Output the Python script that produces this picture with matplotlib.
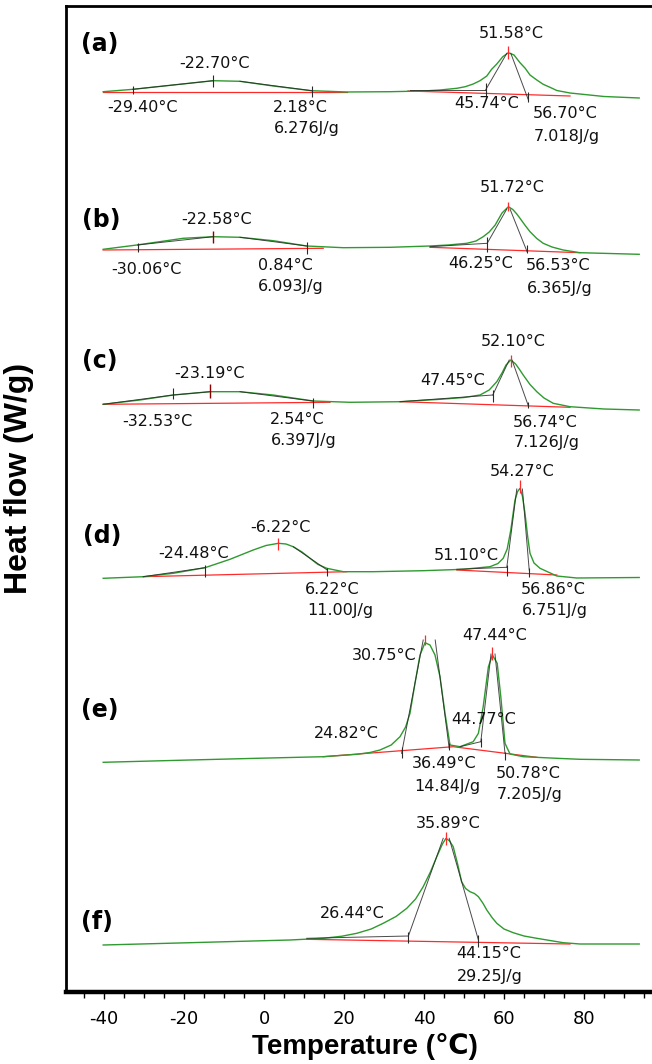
import matplotlib
matplotlib.use("Agg")
import matplotlib.pyplot as plt
from matplotlib.ticker import MultipleLocator

plt.rcParams["axes.unicode_minus"] = False
W, H = 652, 1064

# ---------------- data (temperature in °C, heat flow in stacked offset units) ----------------
temp_a = [-40.2, -32.7, -22.7, -12.7, -6.0, 2.3, 11.9, 20.7, 31.5, 39.8, 44.0, 48.2, 50.3, 52.3, 54.0, 55.7,
          56.9, 58.2, 59.7, 61.1, 62.5, 64.0, 65.3, 66.5, 68.2, 69.8, 71.5, 73.2, 74.8, 76.5, 85.0, 93.8]
flow_a = [900.3, 902.7, 907.0, 911.3, 910.7, 906.0, 901.3, 900.0, 900.3, 901.0, 902.0, 903.7, 905.3, 908.0, 911.3, 916.0,
          922.7, 928.0, 935.3, 939.3, 937.0, 929.3, 923.7, 917.0, 912.0, 907.7, 904.7, 901.5, 900.3, 899.0, 895.5, 894.0]

temp_b = [-40.2, -31.8, -20.2, -12.7, -6.0, 2.3, 10.7, 19.8, 31.5, 41.5, 46.0, 50.7, 53.0, 54.8, 56.3, 57.8,
          59.5, 61.1, 62.2, 63.2, 64.0, 65.3, 66.5, 68.2, 69.8, 72.0, 74.8, 79.0, 93.8]
flow_b = [742.7, 747.0, 753.7, 755.3, 754.7, 751.3, 746.0, 744.3, 744.7, 746.0, 747.0, 748.7, 751.0, 755.3, 760.0, 767.0,
          779.0, 785.3, 782.5, 778.0, 773.7, 766.5, 760.3, 753.5, 748.7, 745.0, 742.0, 739.3, 737.7]

temp_c = [-40.2, -31.0, -22.7, -13.5, -6.0, 2.3, 12.3, 21.5, 34.0, 44.0, 50.0, 54.0, 56.3, 58.2, 59.5, 60.5, 61.7,
          62.9, 63.8, 64.8, 66.5, 68.2, 70.0, 72.3, 76.5, 85.0, 93.8]
flow_c = [587.7, 592.0, 597.0, 600.3, 600.3, 597.0, 591.0, 589.7, 590.3, 592.7, 594.5, 597.0, 602.0, 610.3, 619.0, 627.0, 632.0,
          628.0, 623.0, 617.0, 607.5, 600.3, 594.0, 588.7, 585.3, 583.0, 582.0]

temp_d = [-40.2, -30.2, -22.7, -14.75, -8.5, -2.7, 0.5, 3.6, 5.5, 7.3, 9.5, 11.5, 13.5, 15.7, 19.8, 27.3, 39.8, 49.8,
          56.5, 58.5, 59.8, 60.8, 61.7, 62.75, 63.4, 64.0, 64.6, 65.25, 65.9, 66.5, 67.5, 69.0, 73.2, 78.2, 93.8]
flow_d = [413.7, 415.3, 418.7, 424.3, 432.7, 442.0, 446.5, 448.7, 448.0, 445.3, 440.0, 433.7, 427.5, 423.7, 420.3, 420.3, 421.3, 422.7,
          425.3, 428.5, 433.7, 443.0, 462.0, 492.0, 500.5, 503.7, 496.0, 478.7, 456.0, 438.7, 429.0, 423.7, 416.0, 414.0, 414.5]

temp_e = [-40.2, -18.5, -1.8, 14.8, 23.2, 26.5, 29.0, 31.8, 34.0, 35.4, 36.5, 37.75, 39.0, 40.25, 41.5, 42.75, 44.0, 45.25,
          46.5, 49.0, 52.3, 53.6, 54.8, 56.1, 57.1, 58.3, 59.2, 60.25, 61.5, 64.8, 73.2, 79.0, 93.8]
flow_e = [229.7, 232.0, 233.7, 235.3, 237.7, 239.5, 242.0, 247.0, 255.3, 265.0, 278.7, 308.7, 337.0, 349.3, 347.0, 337.0, 315.3, 278.7,
          247.0, 245.3, 250.3, 258.7, 285.3, 325.3, 337.0, 328.7, 295.3, 248.7, 238.0, 235.3, 233.7, 232.7, 232.0]

temp_f = [-40.2, -18.5, 6.5, 14.8, 19.5, 23.2, 26.8, 29.8, 33.0, 35.7, 37.9, 39.8, 41.6, 43.2, 44.6, 45.5, 46.4, 47.3,
          48.4, 49.4, 50.4, 51.5, 52.6, 53.6, 54.7, 55.7, 57.0, 58.2, 60.0, 62.3, 65.0, 68.2, 74.8, 79.0, 93.8]
flow_f = [47.0, 49.3, 52.0, 53.7, 55.8, 58.7, 63.0, 68.7, 75.5, 83.7, 93.0, 105.3, 120.0, 135.3, 148.0, 153.7, 151.0, 145.3,
          128.0, 110.3, 103.5, 100.3, 98.5, 95.3, 89.0, 82.0, 74.5, 68.7, 63.0, 59.3, 56.0, 53.7, 49.3, 48.0, 48.0]

# integration baselines (red), as polylines
base_a = [([-40.2, 20.7], [899.7, 899.7]), ([36.0, 76.5], [901.0, 896.0])]
base_b = [([-40.2, 14.8], [742.0, 743.7]), ([41.5, 79.0], [744.7, 739.3])]
base_c = [([-40.2, 16.5], [587.7, 589.7]), ([34.0, 76.5], [590.3, 584.7])]
base_d = [([-30.2, 20.7], [415.3, 420.3]), ([48.2, 73.2], [422.0, 417.0])]
base_e = [([14.8, 47.3, 68.2], [235.3, 245.3, 234.7])]
base_f = [([10.7, 76.5], [52.7, 48.0])]

# analysis tangents / extrapolated baselines (black), as polylines
tan_a = [([-32.8, -12.7], [902.7, 911.3]), ([-6.0, 11.9], [910.7, 901.3]),
         ([36.5, 55.4], [902.0, 902.0]), ([55.4, 60.7], [902.0, 938.7]), ([61.7, 66.1], [938.7, 892.0])]
tan_b = [([-31.6, -12.7], [747.0, 755.3]), ([-6.0, 10.7], [754.7, 746.0]),
         ([41.5, 55.8], [745.3, 748.7]), ([55.8, 60.7], [748.7, 783.0]), ([61.5, 65.8], [783.0, 740.0])]
tan_c = [([-40.2, -22.7, -13.5], [587.7, 597.0, 600.3]), ([-6.0, 12.2], [600.3, 591.0]),
         ([34.0, 57.2], [590.3, 597.0]), ([57.2, 61.3], [597.0, 632.0]), ([62.0, 66.1], [632.0, 586.0])]
tan_d = [([-30.2, -14.75], [415.3, 424.3]), ([7.3, 15.8], [445.3, 422.0]),
         ([48.2, 60.7], [422.7, 424.7]), ([60.7, 63.2], [424.7, 503.0]), ([64.6, 66.3], [503.0, 422.0])]
tan_e = [([34.4, 39.8], [238.7, 352.0]), ([42.8, 46.3], [352.0, 243.7]),
         ([49.0, 54.2], [245.3, 250.3]), ([54.2, 56.75], [250.3, 338.0]), ([57.75, 60.25], [338.0, 238.7])]
tan_f = [([10.7, 36.1], [53.7, 56.0]), ([36.1, 44.8], [56.0, 153.7]), ([46.3, 53.6], [153.7, 52.0])]

# onset / end markers (black): temperature, lower, upper
mark_T = [-32.8, -12.7, 11.9, 55.4, 66.1, -31.6, 10.7, 55.8, 65.8, -22.7, 12.2, 57.2, 66.1,
          -14.75, 15.8, 60.7, 66.3, 34.4, 46.3, 54.2, 60.25, 36.1, 53.6]
mark_lo = [898, 905, 895, 896, 890, 740.3, 738, 740.3, 739.3, 593, 583.7, 590.3, 583.7,
           415.3, 416, 416.3, 414.7, 233.7, 242, 245.3, 232, 49.3, 45.3]
mark_hi = [906, 917, 906, 909, 900, 748.7, 750.3, 755.3, 747, 604.3, 593.7, 602, 590.3,
           427, 423.7, 427, 423.7, 245.3, 248.7, 253.7, 240.3, 60.3, 57]
# peak markers
dpeak_T = [-12.7, -13.5]
dpeak_lo = [748.7, 594.3]
dpeak_hi = [761.3, 607.7]
peak_T = [61.1, 61.1, 61.7, 3.6, 64.0, 40.25, 57.1, 45.5]
peak_lo = [933, 781.3, 625.3, 442, 498.7, 347, 332, 147]
peak_hi = [946, 790.3, 637, 453.7, 512, 357, 345.3, 160.3]

panel_labels = ["(a)", "(b)", "(c)", "(d)", "(e)", "(f)"]
panel_pos = [(100, 44), (101, 220), (100, 361), (102, 536), (100, 710), (97, 922)]

ann_text = ["51.58°C", "-22.70°C", "-29.40°C", "2.18°C", "6.276J/g", "45.74°C", "56.70°C", "7.018J/g",
            "51.72°C", "-22.58°C", "-30.06°C", "0.84°C", "6.093J/g", "46.25°C", "56.53°C", "6.365J/g",
            "52.10°C", "-23.19°C", "47.45°C", "-32.53°C", "2.54°C", "6.397J/g", "56.74°C", "7.126J/g",
            "54.27°C", "-6.22°C", "-24.48°C", "51.10°C", "6.22°C", "11.00J/g", "56.86°C", "6.751J/g",
            "47.44°C", "30.75°C", "44.77°C", "24.82°C", "36.49°C", "14.84J/g", "50.78°C", "7.205J/g",
            "35.89°C", "26.44°C", "44.15°C", "29.25J/g"]
ann_pos = [(511, 34), (214, 63), (142, 107), (300, 107), (307, 129), (487, 104), (565, 114), (567, 136),
           (512, 188), (217, 220), (146, 269), (285, 265), (291, 287), (481, 263), (558, 266), (560, 288),
           (513, 342), (210, 374), (453, 380), (157, 421), (297, 420), (304, 441), (545, 423), (547, 443),
           (522, 472), (280, 527), (194, 554), (466, 556), (332, 589), (340, 610), (553, 589), (555, 610),
           (495, 635), (384, 655), (484, 720), (346, 734), (444, 764), (447, 786), (528, 773), (530, 794),
           (448, 824), (352, 914), (489, 954), (490, 976)]

x_ticks = [-40, -20, 0, 20, 40, 60, 80]

# ---------------- drawing ----------------
fig = plt.figure(figsize=(W / 100, H / 100), dpi=100)
fig.patch.set_facecolor("white")
left_px, right_px, top_px, bot_px = 66, 660, 6, 992
ax = fig.add_axes([left_px / W, (H - bot_px) / H, (right_px - left_px) / W, (bot_px - top_px) / H])
t_left = -40 + (left_px - 104) / 4.0
t_right = -40 + (right_px - 104) / 4.0
ax.set_xlim(t_left, t_right)
ax.set_ylim(0, bot_px - top_px)

green = "#2f9a2f"
red = "#ff2b2b"
dark = "#2a2a2a"

curves = [(temp_a, flow_a), (temp_b, flow_b), (temp_c, flow_c),
          (temp_d, flow_d), (temp_e, flow_e), (temp_f, flow_f)]
for bl in [base_a, base_b, base_c, base_d, base_e, base_f]:
    for xs, ys in bl:
        ax.plot(xs, ys, color=red, lw=0.9, zorder=2)
for t, f in curves:
    ax.plot(t, f, color=green, lw=1.0, zorder=3)
for tl in [tan_a, tan_b, tan_c, tan_d, tan_e, tan_f]:
    for xs, ys in tl:
        ax.plot(xs, ys, color=dark, lw=0.7, alpha=0.85, zorder=4)
ax.vlines(mark_T, mark_lo, mark_hi, color=dark, lw=0.8, zorder=5)
ax.vlines(dpeak_T, dpeak_lo, dpeak_hi, color="#8b0000", lw=1.0, zorder=5)
ax.vlines(peak_T, peak_lo, peak_hi, color=red, lw=0.9, zorder=5)

# spines / ticks
ax.spines["right"].set_visible(False)
ax.spines["top"].set_linewidth(2.0)
ax.spines["left"].set_linewidth(2.0)
ax.spines["bottom"].set_linewidth(3.2)
ax.set_yticks([])
ax.set_xticks(x_ticks)
ax.xaxis.set_minor_locator(MultipleLocator(5))
ax.tick_params(axis="x", which="major", direction="out", length=5, width=1.0,
               labelsize=13, pad=8)
ax.tick_params(axis="x", which="minor", direction="out", length=4, width=1.0)
for lab in ax.get_xticklabels():
    lab.set_family("DejaVu Sans")


def ptext(x, y, s, **kw):
    fig.text(x / W, 1 - y / H, s, ha="center", va="center", **kw)


for s, (x, y) in zip(ann_text, ann_pos):
    ptext(x, y, s, fontsize=11.5, family="DejaVu Sans", color="#111111")
for s, (x, y) in zip(panel_labels, panel_pos):
    ptext(x, y, s, fontsize=17, family="DejaVu Sans", fontweight="bold")

ptext(365, 1046, "Temperature (℃)", fontsize=20, fontweight="bold",
      family=["Liberation Sans", "DejaVu Sans"])
ptext(19, 478, "Heat flow (W/g)", fontsize=23, fontweight="bold", rotation=90,
      family=["Liberation Sans", "DejaVu Sans"])

fig.savefig("out.png", dpi=100, facecolor="white")
